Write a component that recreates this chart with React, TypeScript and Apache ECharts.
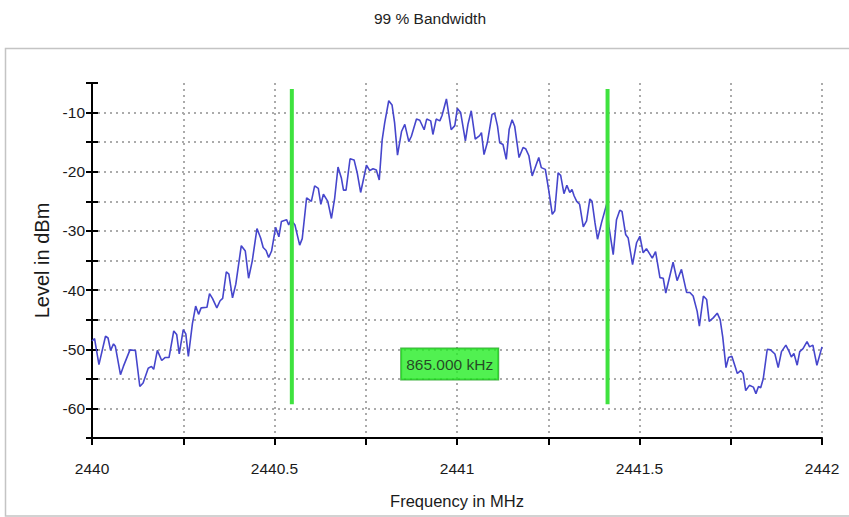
import React, { useEffect, useRef } from "react";
import * as echarts from "echarts";

const FONT = "'Liberation Sans', Arial, sans-serif";

const titleText = "99 % Bandwidth";
const xAxisName = "Frequency in MHz";
const yAxisName = "Level in dBm";
const bandwidthLabel = "865.000 kHz";

const freqs: number[] = [
  2440.000, 2440.007, 2440.019, 2440.037, 2440.044, 2440.051, 2440.059, 2440.064, 2440.078, 2440.086,
  2440.104, 2440.119, 2440.131, 2440.140, 2440.154, 2440.163, 2440.169, 2440.179, 2440.191, 2440.200,
  2440.211, 2440.224, 2440.232, 2440.239, 2440.250, 2440.257, 2440.264, 2440.275, 2440.284, 2440.292,
  2440.299, 2440.315, 2440.322, 2440.330, 2440.342, 2440.351, 2440.358, 2440.368, 2440.375, 2440.385,
  2440.394, 2440.409, 2440.420, 2440.429, 2440.439, 2440.452, 2440.462, 2440.469, 2440.477, 2440.484,
  2440.492, 2440.503,
  2440.512, 2440.519, 2440.533, 2440.539, 2440.545, 2440.556, 2440.569, 2440.576, 2440.588, 2440.601,
  2440.610, 2440.620, 2440.627, 2440.634, 2440.646, 2440.656, 2440.665, 2440.674, 2440.683, 2440.689,
  2440.696, 2440.707, 2440.718, 2440.727, 2440.736, 2440.752, 2440.761, 2440.770, 2440.779, 2440.787,
  2440.795, 2440.802, 2440.813, 2440.822, 2440.829, 2440.837, 2440.848, 2440.857, 2440.868, 2440.875,
  2440.889, 2440.898, 2440.910, 2440.917, 2440.928, 2440.934, 2440.943, 2440.953, 2440.959, 2440.971,
  2440.984, 2440.994,
  2441.001, 2441.010, 2441.023, 2441.030, 2441.039, 2441.050, 2441.062, 2441.067, 2441.074, 2441.083,
  2441.096, 2441.103, 2441.111, 2441.117, 2441.126, 2441.135, 2441.143, 2441.151, 2441.158, 2441.170,
  2441.181, 2441.188, 2441.197, 2441.206, 2441.213, 2441.224, 2441.231, 2441.242, 2441.251, 2441.261,
  2441.268, 2441.277, 2441.284, 2441.293, 2441.301, 2441.309, 2441.315, 2441.321, 2441.328, 2441.336,
  2441.346, 2441.355, 2441.364, 2441.370, 2441.378, 2441.385, 2441.396, 2441.410, 2441.416, 2441.428,
  2441.437, 2441.446, 2441.452, 2441.462, 2441.469, 2441.481, 2441.492, 2441.501, 2441.510,
  2441.519, 2441.535, 2441.544, 2441.556, 2441.565, 2441.572, 2441.592, 2441.603, 2441.615, 2441.629,
  2441.638, 2441.647, 2441.658, 2441.664, 2441.675, 2441.684, 2441.691, 2441.702, 2441.713, 2441.721,
  2441.728, 2441.737, 2441.744, 2441.753, 2441.762, 2441.768, 2441.777, 2441.784, 2441.791, 2441.801,
  2441.812, 2441.819, 2441.826, 2441.832, 2441.839, 2441.850, 2441.859, 2441.871, 2441.880, 2441.889,
  2441.901, 2441.910, 2441.916, 2441.923, 2441.932, 2441.939, 2441.948, 2441.959, 2441.966, 2441.975,
  2441.986, 2442.000,
];

const levels: number[] = [
  -48.6, -48.2, -52.6, -47.8, -48.1, -50.2, -49.1, -49.5, -54.3, -52.9,
  -50.1, -50.2, -56.3, -55.7, -53.2, -52.9, -53.4, -50.2, -51.9, -51.4,
  -51.4, -46.9, -47.5, -50.8, -46.7, -47.4, -51.2, -45.7, -42.7, -44.1,
  -43.0, -42.9, -40.6, -41.4, -43.0, -41.8, -41.4, -36.9, -37.3, -41.3,
  -39.0, -32.5, -33.4, -38.0, -35.1, -29.6, -31.2, -32.8, -33.3, -34.5,
  -33.4, -29.4,
  -31.0, -28.4, -28.1, -29.0, -28.1, -29.0, -32.4, -31.3, -24.4, -25.0,
  -22.4, -22.8, -25.5, -23.8, -25.0, -27.9, -24.4, -19.2, -21.0, -23.1,
  -23.1, -17.8, -18.0, -20.3, -23.5, -18.9, -19.8, -19.5, -19.7, -21.4,
  -14.6, -11.7, -8.0, -8.7, -11.7, -17.2, -13.2, -12.0, -14.9, -14.0,
  -11.1, -11.3, -12.9, -11.1, -11.4, -13.7, -11.1, -11.4, -10.5, -7.7,
  -12.9, -12.2,
  -9.3, -10.0, -14.8, -12.0, -9.7, -14.5, -13.9, -13.4, -17.1, -15.1,
  -10.3, -10.1, -12.3, -15.1, -15.4, -17.9, -12.8, -11.2, -12.3, -17.6,
  -15.9, -16.1, -17.3, -20.7, -19.5, -17.6, -19.3, -19.6, -23.0, -27.2,
  -26.6, -20.2, -20.6, -23.7, -22.3, -23.5, -23.0, -24.1, -25.0, -25.5,
  -29.3, -28.3, -24.6, -25.0, -28.6, -31.4, -28.6, -25.5, -29.2, -34.0,
  -28.1, -26.5, -26.7, -30.6, -31.2, -35.7, -32.0, -30.9, -33.7,
  -33.0, -34.6, -33.5, -37.9, -38.0, -40.5, -35.3, -38.4, -36.5, -40.4,
  -40.4, -41.0, -43.6, -46.1, -41.0, -41.6, -45.3, -44.7, -43.9, -45.0,
  -47.9, -53.1, -51.4, -51.2, -52.9, -54.1, -53.6, -54.1, -57.0, -56.1,
  -56.4, -57.5, -56.3, -56.5, -55.0, -50.0, -50.1, -50.8, -53.1, -50.4,
  -49.3, -50.4, -51.3, -50.7, -52.7, -50.4, -49.9, -48.7, -49.6, -49.3,
  -52.7, -49.6,
];

// Bandwidth markers (MHz) and their vertical extent (dBm)
const markerFreqs: number[] = [2440.5475, 2441.4125];
const markerLevels: number[] = [-6, -59.3];
const labelLevel = -52.5;

const xTicks = { min: 2440, max: 2442, interval: 0.25 };
const yTicks = { min: -65, max: -5, interval: 5 };

export default function App() {
  const ref = useRef<HTMLDivElement>(null);

  useEffect(() => {
    if (!ref.current) return;
    const chart = echarts.init(ref.current, null, { renderer: "svg" });

    const gridLine = { show: true, showMinLine: false, lineStyle: { color: "#ababab", width: 2, type: [2, 4] as any } };
    const labelStyle = { fontFamily: FONT, fontSize: 15.5, color: "#1a1a1a" };

    const trace = freqs.map((f, i) => [f, levels[i]]);
    const markerSeries = markerFreqs.map((f) => ({
      type: "line",
      data: [[f, markerLevels[0]], [f, markerLevels[1]]],
      symbol: "none",
      lineStyle: { color: "#3fe23f", width: 4 },
      silent: true,
      z: 3,
    }));
    const mid = (markerFreqs[0] + markerFreqs[1]) / 2;

    chart.setOption({
      animation: false,
      graphic: [
        {
          type: "rect",
          shape: { x: 5.5, y: 48.5, width: 860, height: 467.5 },
          style: { fill: "none", stroke: "#c4c4c4", lineWidth: 1.5 },
          silent: true,
          z: -10,
        },
        {
          type: "text",
          x: 430,
          y: 18,
          style: {
            text: titleText,
            fontFamily: FONT,
            fontSize: 15.5,
            fill: "#222",
            align: "center",
            verticalAlign: "middle",
          },
        },
      ],
      grid: { left: 92, right: 27, top: 83, bottom: 79, containLabel: false },
      xAxis: {
        type: "value",
        min: xTicks.min,
        max: xTicks.max,
        interval: xTicks.interval,
        name: xAxisName,
        nameLocation: "middle",
        nameGap: 54,
        nameTextStyle: { fontFamily: FONT, fontSize: 16.5, color: "#1a1a1a" },
        axisLine: { show: true, onZero: false, lineStyle: { color: "#000", width: 2 } },
        axisTick: { show: true, inside: false, length: 7, lineStyle: { color: "#000", width: 2 } },
        axisLabel: {
          ...labelStyle,
          margin: 22,
          formatter: (v: number) => (Math.round(v * 4) % 2 === 0 ? String(v) : ""),
        },
        splitLine: { ...gridLine, showMaxLine: true },
      },
      yAxis: [
        {
          type: "value",
          min: yTicks.min,
          max: yTicks.max,
          interval: yTicks.interval,
          name: yAxisName,
          nameLocation: "middle",
          nameGap: 36,
          nameRotate: 90,
          nameTextStyle: { fontFamily: FONT, fontSize: 20, color: "#1a1a1a" },
          axisLine: { show: true, onZero: false, lineStyle: { color: "#000", width: 2 } },
          axisTick: { show: true, inside: false, length: 6, lineStyle: { color: "#000", width: 2 } },
          axisLabel: {
            ...labelStyle,
            margin: 7,
            formatter: (v: number) => (Math.round(v) % 10 === 0 && v > -65 && v < -5 ? String(v) : ""),
          },
          splitLine: { ...gridLine, showMaxLine: false },
        },
        {
          type: "value",
          min: yTicks.min,
          max: yTicks.max,
          interval: yTicks.interval,
          position: "left",
          axisLine: { show: false },
          axisTick: { show: true, inside: true, length: 6, lineStyle: { color: "#000", width: 2 } },
          axisLabel: { show: false },
          splitLine: { show: false },
        },
      ],
      series: [
        {
          type: "line",
          data: trace,
          symbol: "none",
          lineStyle: { color: "#4646cc", width: 1.6 },
          silent: true,
          z: 2,
        },
        ...markerSeries,
        {
          type: "scatter",
          data: [[mid, labelLevel]],
          symbolSize: 0,
          silent: true,
          z: 5,
          label: {
            show: true,
            position: "inside",
            formatter: bandwidthLabel,
            fontFamily: FONT,
            fontSize: 15.5,
            color: "#1a1a1a",
            backgroundColor: "#25ee25",
            borderColor: "#15a015",
            borderWidth: 1,
            padding: [8, 5, 7, 5],
          },
        },
      ],
    });

    return () => chart.dispose();
  }, []);

  return (
    <div
      ref={ref}
      style={{ position: "fixed", left: 0, top: 0, width: 849, height: 517, background: "#fff" }}
    />
  );
}
